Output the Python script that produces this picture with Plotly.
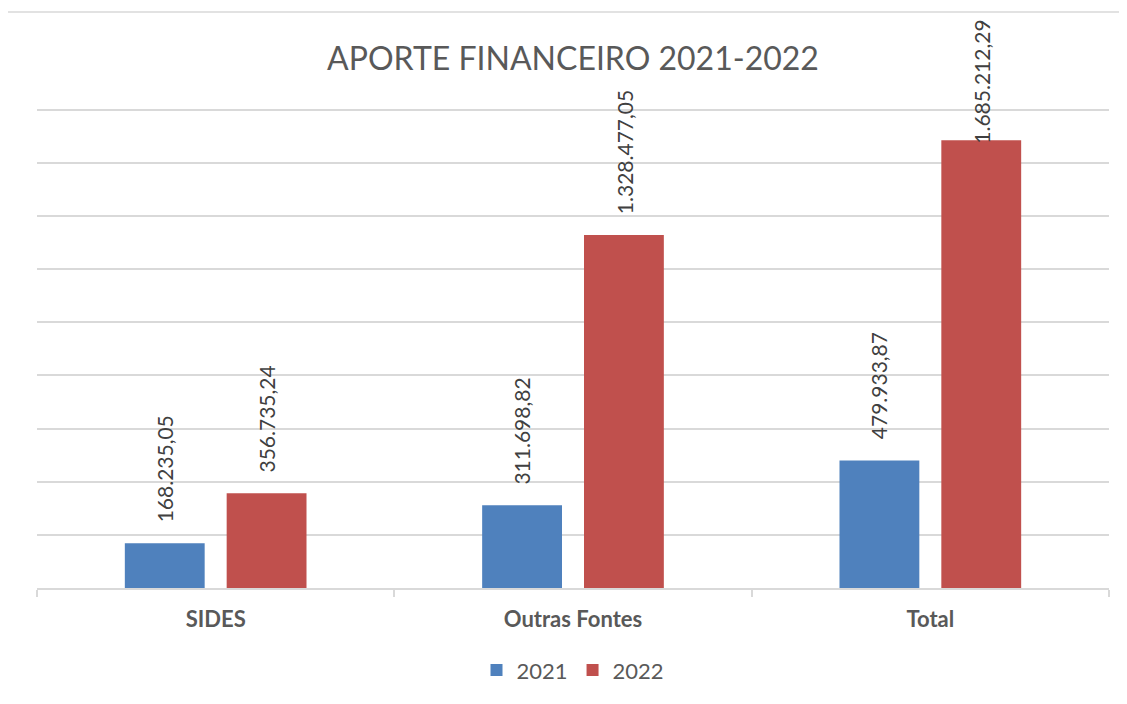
import plotly.graph_objects as go

# Data
categories = ["SIDES", "Outras Fontes", "Total"]
values_2021 = [168235.05, 311698.82, 479933.87]
values_2022 = [356735.24, 1328477.05, 1685212.29]
series_names = ["2021", "2022"]

BLUE = "#4F81BD"
RED = "#C0504D"
GRID = "#D9D9D9"
FONT = "Lato"


def fmt_br(v):
    # 1234567.89 -> 1.234.567,89
    s = f"{v:,.2f}"
    return s.replace(",", "X").replace(".", ",").replace("X", ".")


fig = go.Figure()
fig.add_bar(x=categories, y=values_2021, name=series_names[0], marker_color=BLUE,
            marker_line_width=0)
fig.add_bar(x=categories, y=values_2022, name=series_names[1], marker_color=RED,
            marker_line_width=0)

# data labels, rotated, above each bar
offset = 0.143
ymax = 1800000
for series, dx in ((values_2021, -offset), (values_2022, offset)):
    for i, v in enumerate(series):
        shift = 19 if v < 0.9 * ymax else -5
        fig.add_annotation(
            x=i + dx, y=v, text=fmt_br(v), textangle=-90, showarrow=False,
            xanchor="center", yanchor="bottom", yshift=shift,
            font=dict(family=FONT, size=21, color="#404040"),
        )

# chart area border (open on right/bottom like the cropped original)
fig.add_shape(type="rect", xref="paper", yref="paper",
              x0=-0.028, x1=1.1, y0=-0.4, y1=1.1925,
              line=dict(color=GRID, width=1.5), layer="below")

fig.update_layout(
    width=1127,
    height=704,
    margin=dict(l=29, r=26, t=97, b=124),
    paper_bgcolor="white",
    plot_bgcolor="white",
    barmode="group",
    bargap=0.43,
    bargroupgap=0.216,
    title=dict(text="APORTE FINANCEIRO 2021-2022", x=0.5, xanchor="center", xref="paper",
               y=1 - 51 / 704, yanchor="middle", yref="container",
               font=dict(family=FONT, size=32, color="#595959")),
    legend=dict(orientation="h", x=0.5, xanchor="center", y=-0.17, yanchor="middle",
                font=dict(family=FONT, size=22, color="#595959"),
                itemwidth=30, traceorder="normal"),
    font=dict(family=FONT, color="#595959"),
)
fig.update_xaxes(
    showgrid=False, showline=True, linecolor=GRID, linewidth=1.5,
    ticks="outside", tickson="boundaries", ticklen=7, tickcolor=GRID, tickwidth=1.5,
    tickfont=dict(family=FONT, size=22, color="#595959", weight="bold"),
    ticklabelstandoff=11,
)
fig.update_yaxes(
    range=[0, ymax * 1.01], dtick=200000, showgrid=True, gridcolor=GRID, gridwidth=1.5,
    showticklabels=False, zeroline=False, showline=False,
)

fig.write_html("out.html")
